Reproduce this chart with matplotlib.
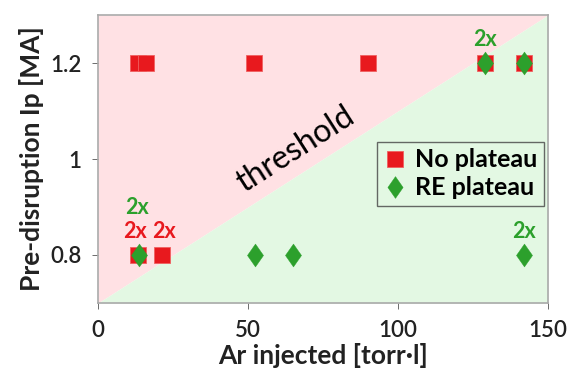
import numpy as np
import matplotlib.pyplot as plt
from matplotlib.path import Path

plt.rcParams['font.family'] = ['Lato', 'DejaVu Sans']

# disruptions without a runaway-electron plateau
noplat_ar = [13.2, 16.0, 52.1, 90.0, 129.0, 142.0, 13.3, 21.2]
noplat_ip = [1.2, 1.2, 1.2, 1.2, 1.2, 1.2, 0.8, 0.8]

# disruptions with an RE plateau
replat_ar = [129.0, 142.0, 13.7, 52.2, 65.1, 142.0]
replat_ip = [1.2, 1.2, 0.8, 0.8, 0.8, 0.8]

# repeated shots: (x, y, text, colour)
repeats = [(13.5, 0.8, '2x', 'g'), (13.3, 0.8, '2x', 'r'),
           (21.2, 0.8, '2x', 'r'), (129.0, 1.2, '2x', 'g'),
           (142.0, 0.8, '2x', 'g')]

red = '#E8191E'
green = '#2CA02C'
pink_bg = '#FFE1E4'
green_bg = '#E3F8E3'

xlim = (0, 150)
ylim = (0.7, 1.3)

diamond = Path([(0, 1), (0.7, 0), (0, -1), (-0.7, 0), (0, 1)],
               [Path.MOVETO, Path.LINETO, Path.LINETO, Path.LINETO, Path.CLOSEPOLY])

fig = plt.figure(figsize=(5.68, 3.81), dpi=100)
ax = fig.add_axes([98/568, 1 - 303/381, 450/568, 288/381])

# shaded regions either side of the threshold diagonal
ax.fill_between(xlim, [ylim[0], ylim[1]], ylim[1], color=pink_bg, lw=0, zorder=0)
ax.fill_between(xlim, ylim[0], [ylim[0], ylim[1]], color=green_bg, lw=0, zorder=0)

ax.plot(noplat_ar, noplat_ip, ls='none', marker='s', ms=12, color=red,
        mec='#F06060', mew=0.6, label='No plateau', zorder=3)
ax.plot(replat_ar, replat_ip, ls='none', marker=diamond, ms=16.5, color=green,
        mec=green, mew=0.3, label='RE plateau', zorder=4)

for x, y, txt, c in repeats:
    dx = 0
    if c == 'r':
        dy, col = 0.048, red
        # push the two neighbouring red labels apart a little
        dx = -2 if x < 15 else 2
    elif y < 1.0 and x < 50:
        dy, col = 0.1, green
        dx = -1
    else:
        dy, col = 0.048, green
    ax.annotate(txt, (x, y + dy), xytext=(dx, 0), textcoords='offset points',
                color=col, ha='center', va='center',
                fontsize=15.5, fontweight='bold', zorder=5)

ax.text(66, 1.02, 'threshold', rotation=32.6, ha='center', va='center',
        fontsize=23, color='black', rotation_mode='anchor')

ax.set_xlim(*xlim)
ax.set_ylim(*ylim)
ax.set_xticks([0, 50, 100, 150])
ax.set_yticks([0.8, 1.0, 1.2])
ax.set_yticklabels(['0.8', '1', '1.2'])
ax.tick_params(labelsize=16, length=4, color='#555555', width=0.6, pad=8)
for lbl in ax.get_xticklabels() + ax.get_yticklabels():
    lbl.set_fontweight('semibold')
    lbl.set_color('#222222')
for s in ax.spines.values():
    s.set_color('#AAAAAA')
    s.set_linewidth(1.2)

ax.set_xlabel('Ar injected [torr·l]', fontsize=19, fontweight='bold', color='#222222', labelpad=2)
ax.set_ylabel('Pre-disruption Ip [MA]', fontsize=19, fontweight='bold', color='#222222', labelpad=4)

leg = ax.legend(loc='upper right', bbox_to_anchor=(0.991, 0.559), fontsize=18,
                frameon=True, fancybox=False, edgecolor='#444444',
                handletextpad=0.3, borderpad=0.25, labelspacing=0.2,
                handlelength=1.0, markerscale=0.95, borderaxespad=0)
leg.get_frame().set_facecolor(green_bg)
leg.get_frame().set_linewidth(1.0)
for t in leg.get_texts():
    t.set_fontweight('bold')

fig.savefig('out.png', dpi=100)
